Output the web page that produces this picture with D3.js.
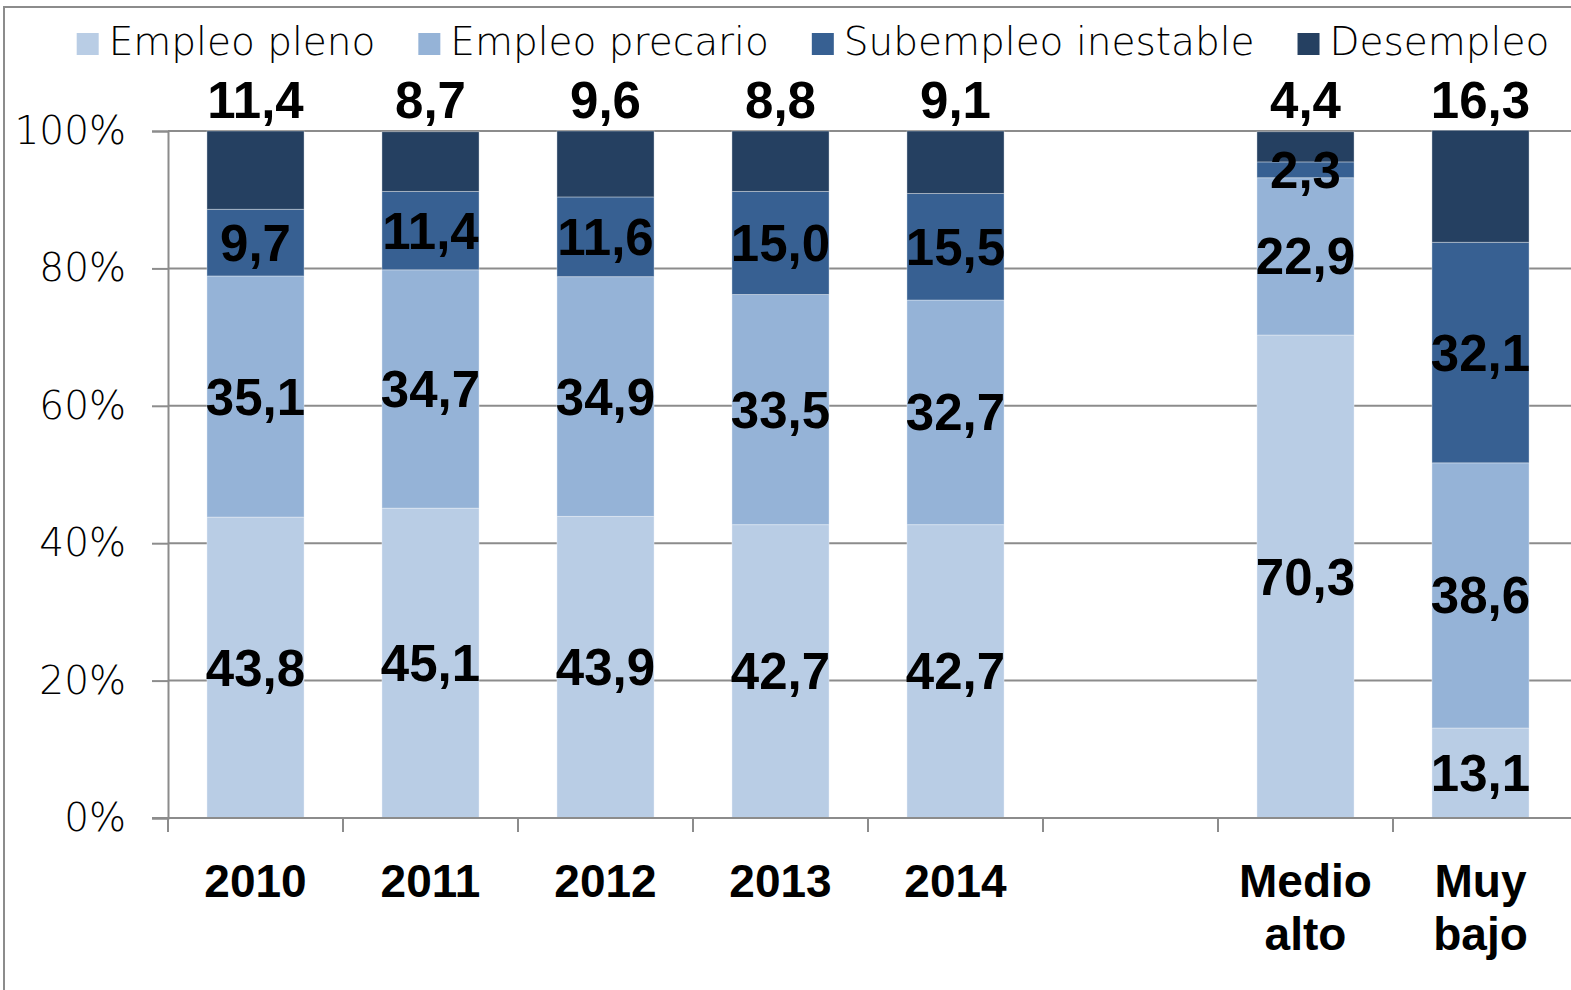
<!DOCTYPE html>
<html>
<head>
<meta charset="utf-8">
<script src="https://cdn.jsdelivr.net/npm/d3@7"></script>
<style>
  body { margin: 0; background: #fff; }
  svg { display: block; }
</style>
</head>
<body>
<script>
// categories (empty slot keeps the gap between years and groups)
var categories = ["2010", "2011", "2012", "2013", "2014", "", "Medio alto", "Muy bajo"];
var seriesNames = ["Empleo pleno", "Empleo precario", "Subempleo inestable", "Desempleo"];
var seriesColors = ["#B9CDE5", "#95B3D7", "#376092", "#254061"];

var empleoPleno   = [43.8, 45.1, 43.9, 42.7, 42.7, null, 70.3, 13.1];
var empleoPrecario = [35.1, 34.7, 34.9, 33.5, 32.7, null, 22.9, 38.6];
var subempleo     = [9.7, 11.4, 11.6, 15.0, 15.5, null, 2.3, 32.1];
var desempleo     = [11.4, 8.7, 9.6, 8.8, 9.1, null, 4.4, 16.3];

var yTicks = [0, 20, 40, 60, 80, 100];

var W = 1571, H = 990;
var plot = {left: 168, right: 1568, top: 131, bottom: 818};

var svg = d3.select("body").append("svg")
  .attr("width", W)
  .attr("height", H);

// outer chart border
svg.append("rect")
  .attr("x", 4).attr("y", 7)
  .attr("width", 1600).attr("height", 1000)
  .attr("fill", "none")
  .attr("stroke", "#8c8c8c")
  .attr("stroke-width", 2);

var x = d3.scaleBand()
  .domain(categories)
  .range([plot.left, plot.right])
  .paddingInner(0.445)
  .paddingOuter(0.2225);

var y = d3.scaleLinear()
  .domain([0, 100])
  .range([plot.bottom, plot.top]);

// build table for stack
var table = categories.map(function(c, i) {
  return {
    cat: c,
    "Empleo pleno": empleoPleno[i] || 0,
    "Empleo precario": empleoPrecario[i] || 0,
    "Subempleo inestable": subempleo[i] || 0,
    "Desempleo": desempleo[i] || 0,
    empty: empleoPleno[i] == null
  };
});

var stacked = d3.stack().keys(seriesNames)(table);

// gridlines
svg.append("g")
  .selectAll("line")
  .data(yTicks.filter(function(d) { return d > 0; }))
  .enter().append("line")
  .attr("x1", plot.left).attr("x2", plot.right + 10)
  .attr("y1", function(d) { return y(d); })
  .attr("y2", function(d) { return y(d); })
  .attr("stroke", "#8c8c8c")
  .attr("stroke-width", 2);

// bars
var layers = svg.append("g")
  .selectAll("g")
  .data(stacked)
  .enter().append("g")
  .attr("fill", function(d, i) { return seriesColors[i]; });

layers.selectAll("rect")
  .data(function(d) { return d.filter(function(s) { return !s.data.empty; }); })
  .enter().append("rect")
  .attr("x", function(d) { return x(d.data.cat); })
  .attr("width", x.bandwidth())
  .attr("y", function(d) { return y(d[1]); })
  .attr("height", function(d) { return y(d[0]) - y(d[1]); })
  .attr("stroke", "#ffffff")
  .attr("stroke-opacity", 0.35)
  .attr("stroke-width", 1);

// y axis
var yAxis = svg.append("g")
  .attr("transform", "translate(" + plot.left + ",0)")
  .call(d3.axisLeft(y).tickValues(yTicks).tickSize(16).tickPadding(26)
    .tickFormat(function(d) { return d + "%"; }));
yAxis.select(".domain").attr("stroke", "#8c8c8c").attr("stroke-width", 2);
yAxis.selectAll(".tick line").attr("stroke", "#8c8c8c").attr("stroke-width", 2);
yAxis.selectAll(".tick text")
  .attr("font-family", "'DejaVu Sans', sans-serif")
  .attr("font-weight", 200)
  .attr("font-size", 39)
  .attr("fill", "#000");

// x axis line and ticks between categories
var half = (x.step() - x.bandwidth()) / 2;
var xg = svg.append("g");
xg.append("line")
  .attr("x1", plot.left - 16).attr("x2", plot.right + 10)
  .attr("y1", plot.bottom).attr("y2", plot.bottom)
  .attr("stroke", "#8c8c8c").attr("stroke-width", 2);
xg.selectAll(".xt")
  .data(categories)
  .enter().append("line")
  .attr("class", "xt")
  .attr("x1", function(d) { return x(d) - half; })
  .attr("x2", function(d) { return x(d) - half; })
  .attr("y1", plot.bottom).attr("y2", plot.bottom + 14)
  .attr("stroke", "#8c8c8c").attr("stroke-width", 2);

// category labels
var catLabels = xg.selectAll(".xl")
  .data(categories)
  .enter().append("text")
  .attr("class", "xl")
  .attr("x", function(d) { return x(d) + x.bandwidth() / 2; })
  .attr("y", 897)
  .attr("text-anchor", "middle")
  .attr("font-family", "'Liberation Sans', Arial, sans-serif")
  .attr("font-weight", "bold")
  .attr("font-size", 46)
  .attr("fill", "#000");
catLabels.each(function(d) {
  var words = d.split(" ");
  var t = d3.select(this);
  words.forEach(function(w, i) {
    t.append("tspan")
      .attr("x", x(d) + x.bandwidth() / 2)
      .attr("dy", i === 0 ? 0 : 53)
      .text(w);
  });
});

// data labels
var fmt = function(v) { return v.toFixed(1).replace(".", ","); };
stacked.forEach(function(layer, si) {
  svg.append("g")
    .selectAll("text")
    .data(layer.filter(function(s) { return !s.data.empty; }))
    .enter().append("text")
    .attr("x", function(d) { return x(d.data.cat) + x.bandwidth() / 2; })
    .attr("y", function(d) {
      if (si === seriesNames.length - 1) return y(100) - 13;
      return y((d[0] + d[1]) / 2) + 18;
    })
    .attr("text-anchor", "middle")
    .attr("font-family", "'Liberation Sans', Arial, sans-serif")
    .attr("font-weight", "bold")
    .attr("font-size", 51)
    .attr("fill", "#000")
    .text(function(d) { return fmt(d[1] - d[0]); });
});

// legend
var legend = svg.append("g").attr("class", "legend");
var lx = 0;
seriesNames.forEach(function(name, i) {
  var item = legend.append("g").attr("transform", "translate(" + lx + ",0)");
  item.append("rect")
    .attr("x", 0).attr("y", 33)
    .attr("width", 22).attr("height", 22)
    .attr("fill", seriesColors[i]);
  var t = item.append("text")
    .attr("x", 32).attr("y", 55)
    .attr("font-family", "'DejaVu Sans', sans-serif")
    .attr("font-weight", 200)
    .attr("font-size", 39)
    .attr("fill", "#000")
    .text(name);
  lx += 32 + t.node().getComputedTextLength() + 43;
});
var legendWidth = lx - 43;
legend.attr("transform", "translate(" + (813 - legendWidth / 2) + ",0)");
</script>
</body>
</html>
